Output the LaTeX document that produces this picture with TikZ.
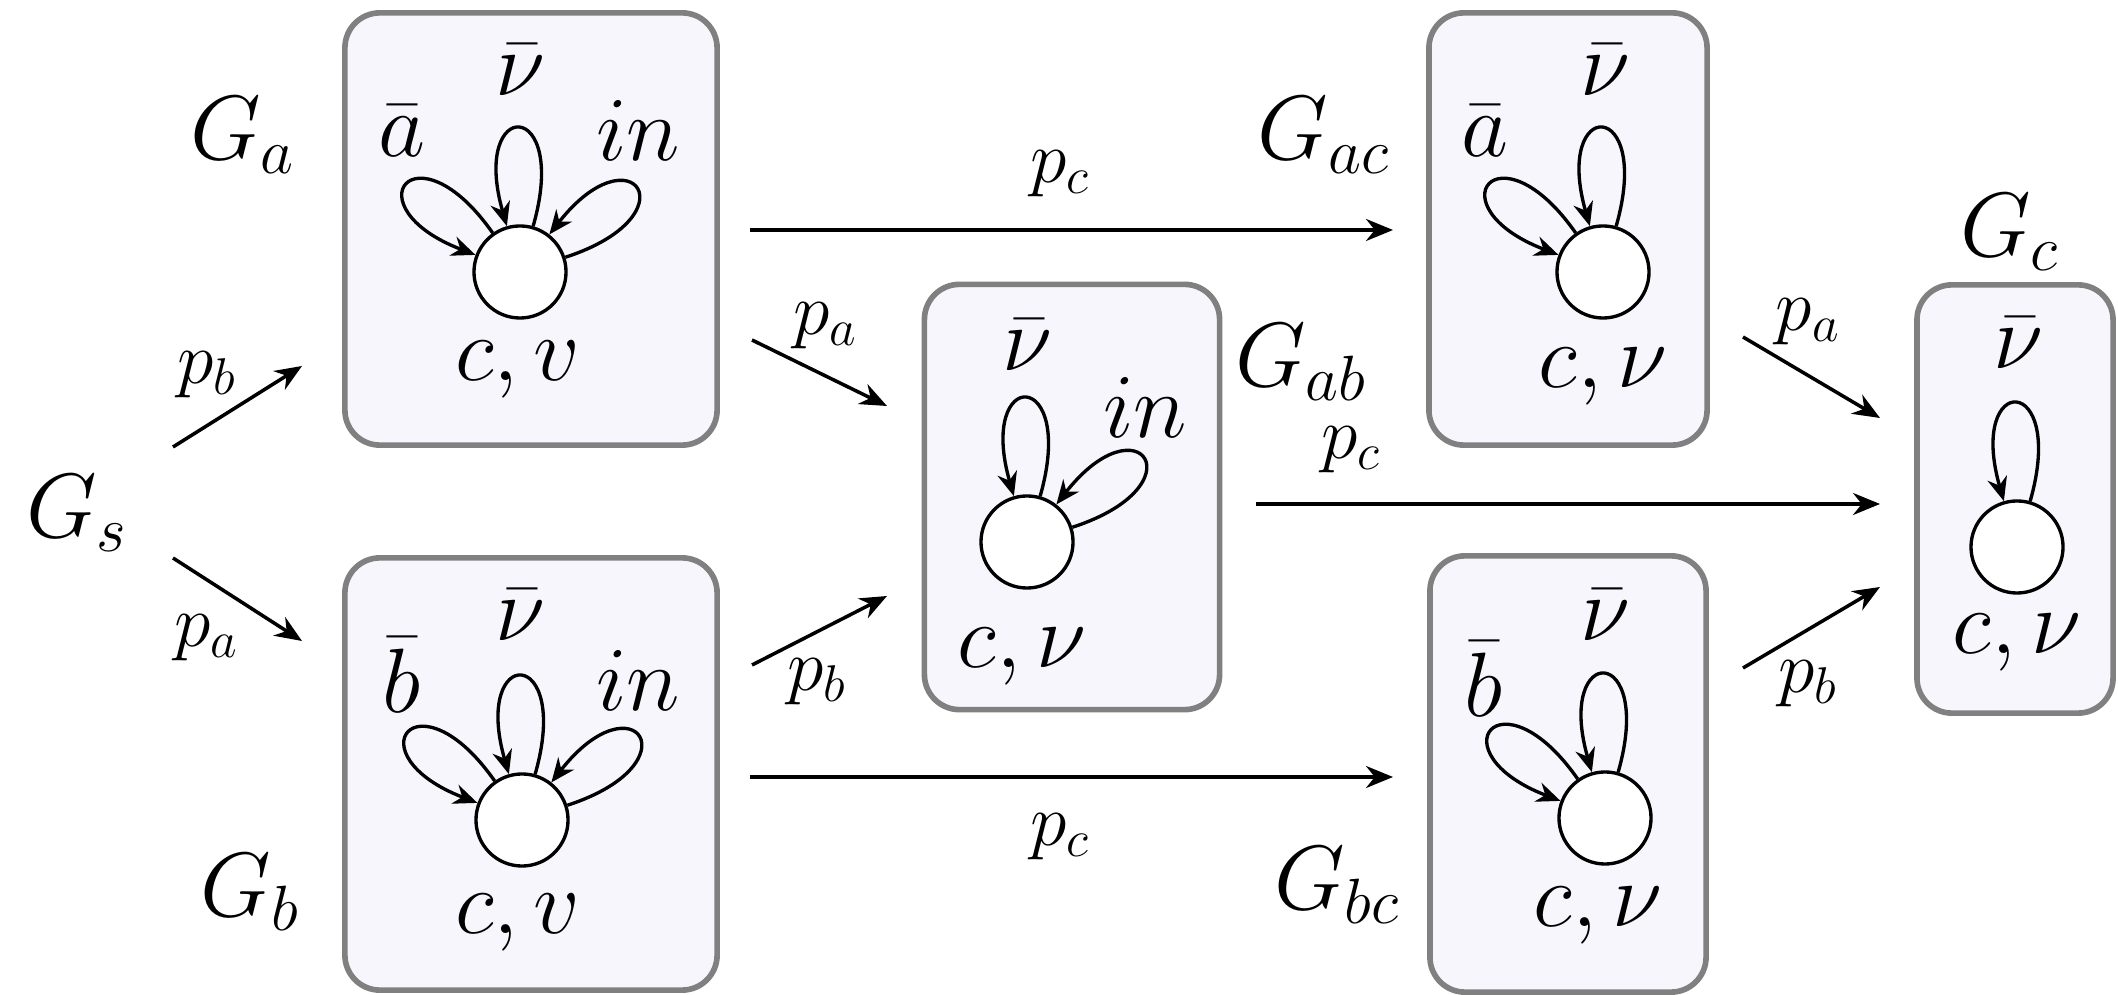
\documentclass[tikz,border=0pt]{standalone}
\usepackage{fix-cm}
\usetikzlibrary{arrows.meta}
\definecolor{boxfill}{RGB}{246,246,252}
\definecolor{boxdraw}{RGB}{128,128,128}
\begin{document}
\begin{tikzpicture}[x=0.01cm,y=0.01cm,
  gbox/.style={draw=boxdraw, fill=boxfill, line width=1.6pt, rounded corners=0.35cm, inner sep=0pt},
  st/.style={circle, draw, line width=0.95pt, minimum size=0.92cm, inner sep=0pt, fill=white},
  big/.style={font=\fontsize{26}{30}\selectfont, inner sep=0pt},
  small/.style={font=\fontsize{21}{25}\selectfont, inner sep=0pt},
  arr/.style={-{Stealth[length=0.27cm,width=0.22cm]}, line width=1pt},
  lp/.style={-{Stealth[length=0.24cm,width=0.2cm]}, line width=0.95pt},
]
\useasboundingbox (0,0) rectangle (2118,-995);
\fill[white] (0,0) rectangle (2118,-995);

% boxes
\node[gbox, minimum width=3.72cm, minimum height=4.32cm] (Ga)  at (531,-229) {};
\node[gbox, minimum width=3.72cm, minimum height=4.32cm] (Gb)  at (531,-774) {};
\node[gbox, minimum width=2.95cm, minimum height=4.25cm] (Gab) at (1072,-497) {};
\node[gbox, minimum width=2.78cm, minimum height=4.32cm] (Gac) at (1568,-229) {};
\node[gbox, minimum width=2.76cm, minimum height=4.36cm] (Gbc) at (1568,-774) {};
\node[gbox, minimum width=1.96cm, minimum height=4.28cm] (Gc)  at (2015,-499) {};

% states
\node[st] (ca)  at (520,-272) {};
\node[st] (cb)  at (522,-820) {};
\node[st] (cab) at (1027,-542) {};
\node[st] (cac) at (1603,-272) {};
\node[st] (cbc) at (1605,-818) {};
\node[st] (cc)  at (2017,-547) {};

% loops
\draw[lp] (ca.74) .. controls +(74:135) and +(106:135) .. (ca.106);
\draw[lp] (ca.125) .. controls +(125:135) and +(159:135) .. (ca.159);
\draw[lp] (ca.18) .. controls +(18:135) and +(52:135) .. (ca.52);

\draw[lp] (cb.74) .. controls +(74:135) and +(106:135) .. (cb.106);
\draw[lp] (cb.125) .. controls +(125:135) and +(159:135) .. (cb.159);
\draw[lp] (cb.18) .. controls +(18:135) and +(52:135) .. (cb.52);

\draw[lp] (cab.74) .. controls +(74:135) and +(106:135) .. (cab.106);
\draw[lp] (cab.18) .. controls +(18:135) and +(52:135) .. (cab.52);

\draw[lp] (cac.74) .. controls +(74:135) and +(106:135) .. (cac.106);
\draw[lp] (cac.125) .. controls +(125:135) and +(159:135) .. (cac.159);

\draw[lp] (cbc.74) .. controls +(74:135) and +(106:135) .. (cbc.106);
\draw[lp] (cbc.125) .. controls +(125:135) and +(159:135) .. (cbc.159);

\draw[lp] (cc.74) .. controls +(74:135) and +(106:135) .. (cc.106);

% inner labels
\node[big] (na1) at (520,-70)  {$\bar{\nu}$};
\node[big] (na2) at (402,-131) {$\bar{a}$};
\node[big] (na3) at (638,-131) {$in$};
\node[big] (na4) at (518,-370) {$c,v$};

\node[big] (nb1) at (520,-615) {$\bar{\nu}$};
\node[big] (nb2) at (402,-675) {$\bar{b}$};
\node[big] (nb3) at (638,-681) {$in$};
\node[big] (nb4) at (518,-923) {$c,v$};

\node[big] (nab1) at (1027,-345) {$\bar{\nu}$};
\node[big] (nab2) at (1145,-408) {$in$};
\node[big] (nab3) at (1022,-657) {$c,\nu$};

\node[big] (nac1) at (1605,-70)  {$\bar{\nu}$};
\node[big] (nac2) at (1485,-131) {$\bar{a}$};
\node[big] (nac3) at (1603,-377) {$c,\nu$};

\node[big] (nbc1) at (1605,-615) {$\bar{\nu}$};
\node[big] (nbc2) at (1484,-679) {$\bar{b}$};
\node[big] (nbc3) at (1598,-916) {$c,\nu$};

\node[big] (nc1) at (2018,-343) {$\bar{\nu}$};
\node[big] (nc2) at (2017,-643) {$c,\nu$};

% graph names
\node[big] (Ls)  at (77,-513)   {$G_s$};
\node[big] (La)  at (243,-135)  {$G_a$};
\node[big] (Lb)  at (250,-892)  {$G_b$};
\node[big] (Lac) at (1324,-135) {$G_{ac}$};
\node[big] (Lab) at (1301,-362) {$G_{ab}$};
\node[big] (Lc)  at (2010,-232) {$G_c$};
\node[big] (Lbc) at (1337,-885) {$G_{bc}$};

% arrow ends
\coordinate (s1) at (173,-447);  \coordinate (e1) at (302,-366);
\coordinate (s2) at (173,-558);  \coordinate (e2) at (302,-641);
\coordinate (s3) at (750,-230);  \coordinate (e3) at (1393,-230);
\coordinate (s4) at (752,-340);  \coordinate (e4) at (887,-406);
\coordinate (s5) at (752,-665);  \coordinate (e5) at (887,-596);
\coordinate (s6) at (750,-777);  \coordinate (e6) at (1393,-777);
\coordinate (s7) at (1256,-504); \coordinate (e7) at (1880,-504);
\coordinate (s8) at (1743,-337); \coordinate (e8) at (1880,-418);
\coordinate (s9) at (1743,-668); \coordinate (e9) at (1880,-587);

\draw[arr] (s1) -- (e1);
\draw[arr] (s2) -- (e2);
\draw[arr] (s3) -- (e3);
\draw[arr] (s4) -- (e4);
\draw[arr] (s5) -- (e5);
\draw[arr] (s6) -- (e6);
\draw[arr] (s7) -- (e7);
\draw[arr] (s8) -- (e8);
\draw[arr] (s9) -- (e9);

% arrow labels
\node[small] (p1) at (207,-375)  {$p_b$};
\node[small] (p2) at (207,-638)  {$p_a$};
\node[small] (p3) at (1060,-174) {$p_c$};
\node[small] (p4) at (826,-326)  {$p_a$};
\node[small] (p5) at (817,-682)  {$p_b$};
\node[small] (p6) at (1060,-837) {$p_c$};
\node[small] (p7) at (1351,-450) {$p_c$};
\node[small] (p8) at (1808,-322) {$p_a$};
\node[small] (p9) at (1808,-684) {$p_b$};
\end{tikzpicture}
\end{document}
